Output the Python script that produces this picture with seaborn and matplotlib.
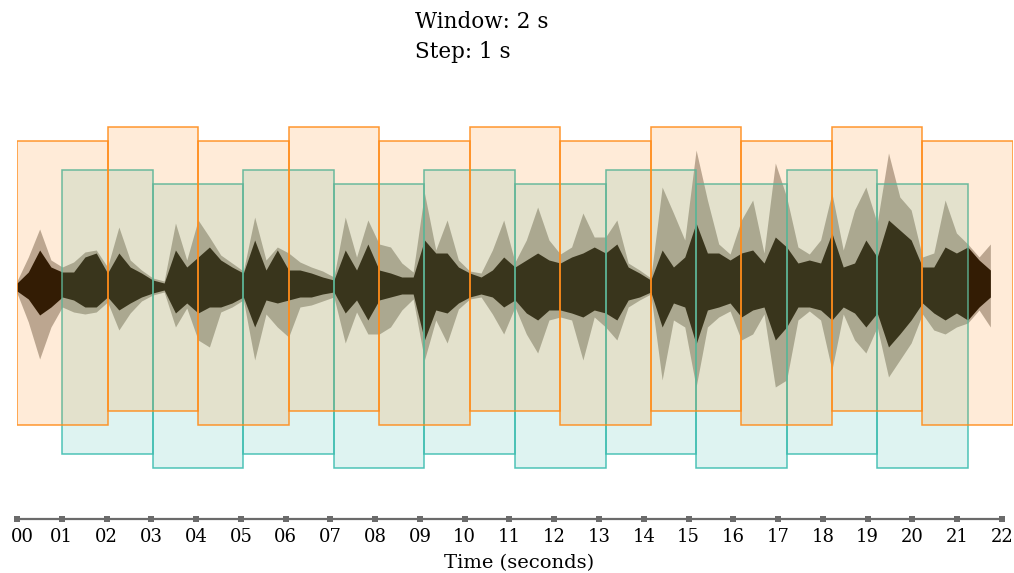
import numpy as np
import pandas as pd
import matplotlib
matplotlib.use("Agg")
import matplotlib.pyplot as plt
from matplotlib.patches import Rectangle
from matplotlib.transforms import ScaledTranslation
import seaborn as sns

sns.set_theme(style="white")
plt.rcParams["font.family"] = ["DejaVu Serif"]
plt.rcParams["text.color"] = "black"
plt.rcParams["xtick.color"] = "black"

# sliding-window settings (seconds)
window = 2
step = 1
n_windows = 21

# waveform envelope, sampled every 0.25 s (amplitude, arbitrary units)
t = np.arange(0, 21.75, 0.25)
core_up = [4, 15, 37, 20, 15, 15, 30, 34, 14, 34, 20, 14, 7, 4, 37, 20, 30, 40, 27, 20,
           14, 47, 17, 37, 17, 17, 14, 10, 7, 37, 17, 43, 17, 14, 10, 10, 47, 34, 34, 20,
           14, 10, 17, 30, 20, 27, 34, 27, 24, 30, 34, 40, 34, 43, 20, 14, 7, 37, 20, 30,
           64, 34, 34, 27, 34, 37, 24, 50, 40, 24, 27, 24, 54, 20, 24, 47, 30, 67, 57, 47,
           20, 20, 40, 34, 40, 27, 17]
core_dn = [4, 12, 28, 20, 10, 13, 20, 20, 10, 23, 16, 10, 6, 3, 26, 16, 26, 20, 20, 16,
           10, 40, 13, 16, 13, 10, 10, 7, 5, 26, 13, 33, 13, 10, 7, 7, 53, 23, 26, 16,
           10, 7, 10, 20, 13, 26, 33, 23, 23, 26, 30, 23, 26, 33, 13, 10, 5, 40, 16, 20,
           57, 23, 20, 16, 30, 23, 20, 53, 40, 20, 20, 23, 33, 20, 26, 40, 26, 60, 47, 33,
           16, 26, 33, 26, 33, 20, 10]
peak_up = [6, 30, 58, 27, 20, 25, 35, 37, 20, 60, 27, 17, 9, 6, 64, 27, 67, 50, 32, 24,
           16, 70, 27, 40, 34, 25, 20, 16, 10, 70, 30, 67, 43, 40, 24, 15, 94, 37, 67, 27,
           16, 14, 37, 67, 25, 47, 80, 47, 33, 40, 74, 50, 50, 67, 24, 17, 9, 100, 74, 47,
           137, 87, 43, 33, 67, 87, 34, 124, 90, 40, 33, 47, 94, 37, 77, 100, 64, 134, 90, 77,
           30, 34, 87, 54, 43, 30, 43]
peak_dn = [6, 35, 72, 40, 20, 25, 27, 25, 15, 43, 26, 14, 8, 5, 40, 21, 53, 60, 25, 20,
           13, 73, 27, 40, 50, 20, 18, 14, 10, 56, 25, 47, 47, 40, 23, 12, 73, 33, 56, 22,
           12, 10, 27, 47, 20, 47, 66, 33, 30, 33, 73, 30, 40, 53, 20, 13, 7, 93, 33, 40,
           100, 40, 30, 24, 53, 47, 27, 100, 93, 33, 24, 33, 83, 27, 53, 66, 40, 90, 73, 56,
           27, 43, 47, 40, 36, 23, 40]

tick_values = list(range(0, 23))
tick_labels = [f"{v:02d}" for v in tick_values]

wave = pd.DataFrame({"t": t, "core_up": core_up, "core_dn": core_dn,
                     "peak_up": peak_up, "peak_dn": peak_dn})

orange = "#FF8C1A"
teal = "#3DBDB0"
window_bottom = [-138, -167, -124, -181]
window_height = 284

fig = plt.figure(figsize=(10.14, 5.73), dpi=100)

ax = fig.add_axes([17 / 1014, (573 - 480) / 573, 996 / 1014, 380 / 573])
ax.fill_between(wave["t"], -wave["peak_dn"], wave["peak_up"], color="#1a1208", alpha=0.35, lw=0)
ax.fill_between(wave["t"], -wave["core_dn"], wave["core_up"], color="#0a0600", lw=0)

# teal (odd) windows first, orange (even) windows on top
order = [i for i in range(n_windows) if i % 2 == 1] + [i for i in range(n_windows) if i % 2 == 0]
for i in order:
    c = orange if i % 2 == 0 else teal
    ax.add_patch(Rectangle((i * step, window_bottom[i % 4]), window, window_height,
                           facecolor=c, alpha=0.17, edgecolor="none"))
    ax.add_patch(Rectangle((i * step, window_bottom[i % 4]), window, window_height,
                           facecolor="none", edgecolor=c, alpha=0.9, lw=1.1))

ax.set_xlim(0, 22)
ax.set_ylim(-193, 187)
ax.axis("off")

# time axis
ax2 = fig.add_axes([17 / 1014, (573 - 524) / 573, 985 / 1014, 10 / 573])
sns.lineplot(x=tick_values, y=[0] * len(tick_values), ax=ax2, color="#6b6b6b",
             lw=1.6, marker="s", markersize=4.5, markeredgewidth=0, clip_on=False)
ax2.set_xlim(0, 22)
ax2.set_ylim(-1, 1)
ax2.set_xticks(tick_values, tick_labels, fontsize=13)
ax2.tick_params(axis="x", length=0, pad=3)
ax2.set_yticks([])
for s in ax2.spines.values():
    s.set_visible(False)
ax2.set_facecolor("none")
first = ax2.get_xticklabels()[0]
first.set_transform(first.get_transform() + ScaledTranslation(5 / 100, 0, fig.dpi_scale_trans))

fig.text(519 / 1014, 1 - 563 / 573, "Time (seconds)", ha="center", va="center", fontsize=14)
fig.text(415 / 1014, 1 - 11 / 573, "Window: 2 s\nStep: 1 s", ha="left", va="top",
         fontsize=15.5, linespacing=1.45)

fig.savefig("out.png", dpi=100)
